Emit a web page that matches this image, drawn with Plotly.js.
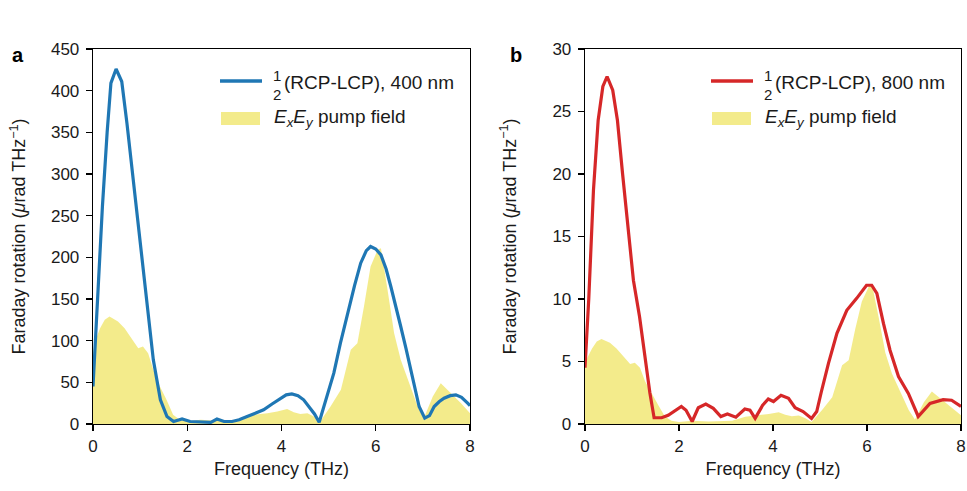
<!DOCTYPE html>
<html>
<head>
<meta charset="utf-8">
<script src="https://cdn.plot.ly/plotly-3.0.1.min.js"></script>
<style>html,body{margin:0;padding:0;background:#fff;}#chart{width:967px;height:491px;}</style>
</head>
<body>
<div id="chart"></div>
<script>
// ---- Data ----
// Panel a: Faraday rotation, 400 nm (blue line)
const freqA = [0, 0.1, 0.2, 0.3, 0.38, 0.49, 0.61, 0.72, 0.86, 1.0, 1.14, 1.28, 1.43, 1.57, 1.71, 1.89, 2.06, 2.3, 2.5, 2.63, 2.78, 2.95, 3.1, 3.27, 3.45, 3.62, 3.8, 3.98, 4.1, 4.22, 4.35, 4.47, 4.6, 4.7, 4.8, 4.95, 5.11, 5.25, 5.4, 5.55, 5.68, 5.8, 5.89, 6.0, 6.11, 6.22, 6.32, 6.43, 6.53, 6.64, 6.74, 6.83, 6.92, 7.04, 7.14, 7.24, 7.35, 7.45, 7.58, 7.7, 7.82, 7.95, 8.0];
const rotA = [45, 153, 261, 350, 409, 426, 411, 361, 289, 213, 141, 77, 29, 9, 3, 6, 3, 2, 2, 6, 3, 3, 5, 9, 13, 17, 24, 31, 35, 36, 34, 29, 20, 12, 2, 30, 61, 97, 133, 166, 193, 208, 213, 210, 203, 186, 165, 141, 117, 91, 65, 42, 21, 7, 10, 21, 27, 31, 34, 35, 32, 25, 22];
// Panel a: ExEy pump field (yellow fill)
const freqPumpA = [0, 0.05, 0.15, 0.25, 0.35, 0.53, 0.67, 0.82, 0.96, 1.06, 1.17, 1.28, 1.42, 1.56, 1.7, 1.84, 2.0, 2.28, 2.63, 3.13, 3.41, 3.7, 3.91, 4.12, 4.26, 4.4, 4.55, 4.69, 4.82, 5.04, 5.26, 5.47, 5.61, 5.75, 5.89, 6.04, 6.11, 6.25, 6.39, 6.53, 6.71, 6.89, 7.02, 7.21, 7.38, 7.6, 7.81, 8.0];
const pumpA = [85, 100, 115, 125, 129, 123, 115, 103, 91, 93, 85, 65, 45, 29, 11, 5, 3, 5, 4, 5, 11, 13, 15, 18, 14, 12, 13, 9, 3, 21, 41, 89, 97, 141, 189, 209, 211, 161, 109, 77, 49, 21, 7, 33, 49, 37, 25, 13];

// Panel b: Faraday rotation, 800 nm (red line)
const freqB = [0, 0.08, 0.18, 0.28, 0.38, 0.47, 0.59, 0.69, 0.8, 0.92, 1.03, 1.16, 1.28, 1.38, 1.47, 1.63, 1.77, 1.9, 2.05, 2.15, 2.28, 2.41, 2.57, 2.73, 2.89, 3.03, 3.21, 3.4, 3.51, 3.62, 3.78, 3.9, 4.01, 4.17, 4.33, 4.47, 4.64, 4.82, 4.93, 5.03, 5.18, 5.36, 5.57, 5.78, 5.99, 6.1, 6.21, 6.35, 6.49, 6.67, 6.88, 7.09, 7.34, 7.62, 7.8, 8.0];
const rotB = [4.5, 10, 18.7, 24.3, 27, 27.8, 26.7, 24.3, 20, 15.3, 11.5, 8.6, 5.1, 2.5, 0.5, 0.5, 0.7, 1.0, 1.4, 1.1, 0.2, 1.3, 1.6, 1.25, 0.6, 0.8, 0.55, 1.2, 1.1, 0.45, 1.5, 2.0, 1.8, 2.3, 2.05, 1.3, 1.0, 0.45, 1.0, 2.6, 4.85, 7.25, 9.1, 10.05, 11.1, 11.1, 10.45, 8.05, 5.9, 3.8, 2.45, 0.6, 1.65, 1.95, 1.9, 1.4];
// Panel b: ExEy pump field (yellow fill)
const freqPumpB = [0, 0.05, 0.15, 0.25, 0.35, 0.53, 0.67, 0.82, 0.96, 1.06, 1.17, 1.28, 1.42, 1.56, 1.7, 1.84, 2.0, 2.28, 2.63, 3.13, 3.41, 3.7, 3.91, 4.12, 4.26, 4.4, 4.55, 4.69, 4.82, 5.04, 5.26, 5.47, 5.61, 5.75, 5.89, 6.04, 6.11, 6.25, 6.39, 6.53, 6.71, 6.89, 7.02, 7.21, 7.38, 7.6, 7.81, 8.0];
const pumpB = [4.5, 5.3, 6.05, 6.6, 6.8, 6.5, 6.05, 5.4, 4.8, 4.9, 4.5, 3.4, 2.4, 1.5, 0.6, 0.26, 0.16, 0.26, 0.2, 0.26, 0.58, 0.68, 0.8, 0.95, 0.74, 0.63, 0.68, 0.47, 0.16, 1.1, 2.15, 4.7, 5.1, 7.6, 9.8, 11.0, 11.1, 8.5, 5.7, 4.05, 2.6, 1.1, 0.37, 1.75, 2.6, 1.95, 1.3, 0.7];

// Tick values / labels
const xTicks = [0, 2, 4, 6, 8];
const yTicksA = [0, 50, 100, 150, 200, 250, 300, 350, 400, 450];
const yTicksB = [0, 5, 10, 15, 20, 25, 30];

// Text
const legendLineA = "(RCP-LCP), 400 nm";
const legendLineB = "(RCP-LCP), 800 nm";
const legendPump = "<i>E</i><sub><i>x</i></sub><i>E</i><sub><i>y</i></sub> pump field";
const xTitle = "Frequency (THz)";
const yTitle = "Faraday rotation (<i>μ</i>rad THz<sup>−1</sup>)";

// ---- Styling ----
const W = 967, H = 491;
const FONT = "Liberation Sans, Arial, Helvetica, sans-serif";
const TXT = "#1a1a1a";
const BLUE = "#1f77b4", RED = "#d62728", YELLOW = "rgba(240,230,110,0.8)";
const px = x => x / W;
const py = y => 1 - y / H;

const traces = [
  {x: freqPumpA, y: pumpA, type: "scatter", mode: "lines", fill: "tozeroy", fillcolor: YELLOW, line: {width: 0, color: YELLOW}, xaxis: "x", yaxis: "y", hoverinfo: "skip", showlegend: false},
  {x: freqA, y: rotA, type: "scatter", mode: "lines", line: {color: BLUE, width: 3.2}, xaxis: "x", yaxis: "y", showlegend: false},
  {x: freqPumpB, y: pumpB, type: "scatter", mode: "lines", fill: "tozeroy", fillcolor: YELLOW, line: {width: 0, color: YELLOW}, xaxis: "x2", yaxis: "y2", hoverinfo: "skip", showlegend: false},
  {x: freqB, y: rotB, type: "scatter", mode: "lines", line: {color: RED, width: 3.2}, xaxis: "x2", yaxis: "y2", showlegend: false}
];

const axisCommon = {
  showline: true, mirror: true, linecolor: "#000", linewidth: 1.3,
  ticks: "outside", ticklen: 6, tickwidth: 1.3, tickcolor: "#000",
  showgrid: false, zeroline: false, automargin: false,
  tickfont: {family: FONT, size: 17, color: TXT}
};
const xAx = (dom, anchor) => Object.assign({}, axisCommon, {
  domain: dom, anchor: anchor, range: [0, 8], tickvals: xTicks,
  title: {text: xTitle, font: {family: FONT, size: 18, color: TXT}, standoff: 7}
});
const yAx = (anchor, rng, tv, so) => Object.assign({}, axisCommon, {
  domain: [py(424), py(49)], anchor: anchor, range: rng, tickvals: tv,
  ticklabelstandoff: 3,
  title: {text: yTitle, font: {family: FONT, size: 18, color: TXT}, standoff: so}
});

function legendParts(x0, lineColor, label) {
  const shapes = [
    {type: "line", xref: "paper", yref: "paper", x0: px(x0), x1: px(x0 + 42), y0: py(81), y1: py(81), line: {color: lineColor, width: 3.5}},
    {type: "rect", xref: "paper", yref: "paper", x0: px(x0 + 1), x1: px(x0 + 40), y0: py(125), y1: py(112), fillcolor: YELLOW, line: {width: 0}}
  ];
  const ann = [
    {xref: "paper", yref: "paper", x: px(x0 + 57), y: py(85), text: "1", showarrow: false, xanchor: "center", yanchor: "bottom", borderpad: 0, font: {family: FONT, size: 15, color: TXT}},
    {xref: "paper", yref: "paper", x: px(x0 + 57), y: py(85.5), text: "2", showarrow: false, xanchor: "center", yanchor: "top", borderpad: 0, font: {family: FONT, size: 15, color: TXT}},
    {xref: "paper", yref: "paper", x: px(x0 + 62), y: py(82), text: label, showarrow: false, xanchor: "left", yanchor: "middle", font: {family: FONT, size: 19, color: TXT}},
    {xref: "paper", yref: "paper", x: px(x0 + 52), y: py(118), text: legendPump, showarrow: false, xanchor: "left", yanchor: "middle", font: {family: FONT, size: 19, color: TXT}}
  ];
  return {shapes, ann};
}
const legA = legendParts(220, BLUE, legendLineA);
const legB = legendParts(711, RED, legendLineB);

const layout = {
  width: W, height: H,
  margin: {l: 0, r: 0, t: 0, b: 0},
  paper_bgcolor: "#fff", plot_bgcolor: "#fff",
  showlegend: false,
  font: {family: FONT, color: TXT},
  xaxis: xAx([px(93), px(470)], "y"),
  yaxis: yAx("x", [0, 450], yTicksA, 20),
  xaxis2: xAx([px(585), px(961)], "y2"),
  yaxis2: yAx("x2", [0, 30], yTicksB, 31),
  shapes: legA.shapes.concat(legB.shapes),
  annotations: legA.ann.concat(legB.ann).concat([
    {xref: "paper", yref: "paper", x: px(18), y: py(55), text: "<b>a</b>", showarrow: false, xanchor: "center", yanchor: "middle", font: {family: FONT, size: 20, color: "#000"}},
    {xref: "paper", yref: "paper", x: px(516), y: py(55), text: "<b>b</b>", showarrow: false, xanchor: "center", yanchor: "middle", font: {family: FONT, size: 20, color: "#000"}}
  ])
};

Plotly.newPlot("chart", traces, layout, {staticPlot: true, displayModeBar: false});
</script>
</body>
</html>
